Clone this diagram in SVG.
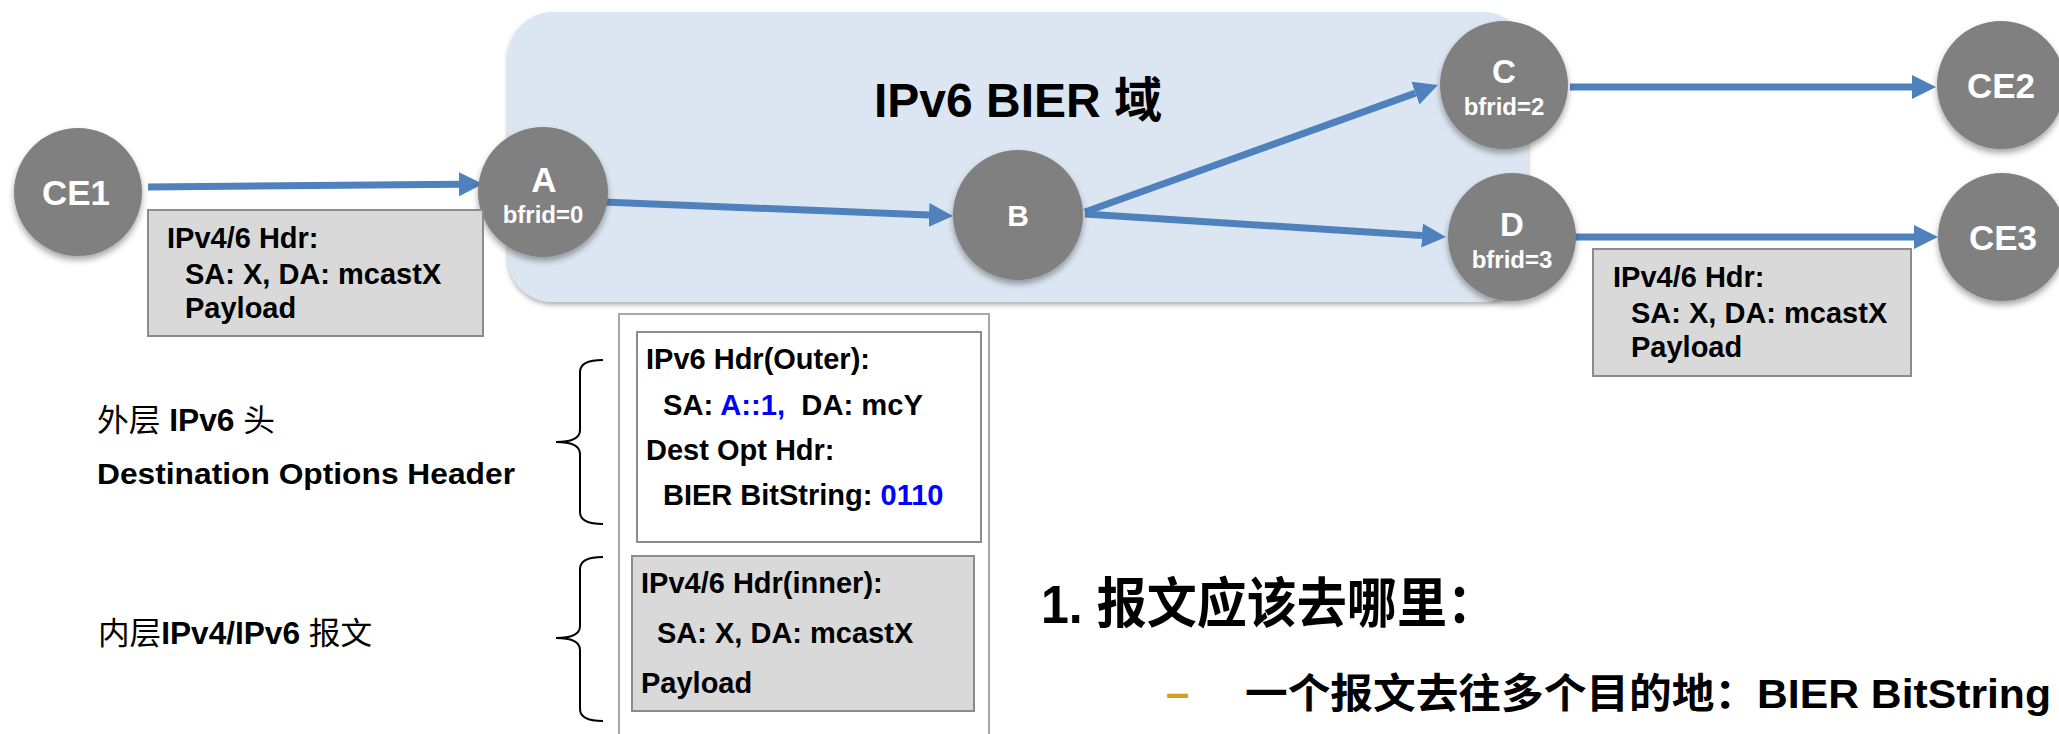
<svg xmlns="http://www.w3.org/2000/svg" width="2059" height="734" viewBox="0 0 2059 734">
<style>
text{font-family:"Liberation Sans","Noto Sans CJK SC",sans-serif;font-weight:bold;white-space:pre}
.node{fill:#808080;filter:url(#sh)}
.nl{fill:#fff;text-anchor:middle}
.big{font-size:35px}
.bf{font-size:24px}
.box{fill:#d9d9d9;stroke:#8c8c8c;stroke-width:2}
.bt{font-size:29px;fill:#000}
.conn{stroke:#4f81bd;stroke-width:7;fill:none;marker-end:url(#ah)}
.brace{fill:none;stroke:#000;stroke-width:2}
.blue{fill:#0000ff}
.reg{font-weight:normal}
</style>
<defs>
<filter id="sh" x="-20%" y="-20%" width="140%" height="150%">
<feDropShadow dx="0" dy="4" stdDeviation="3" flood-color="#000" flood-opacity="0.35"/>
</filter>
<filter id="sh2" x="-5%" y="-5%" width="110%" height="115%">
<feDropShadow dx="0" dy="3" stdDeviation="2.5" flood-color="#000" flood-opacity="0.3"/>
</filter>
<marker id="ah" markerUnits="userSpaceOnUse" markerWidth="26" markerHeight="26" viewBox="0 -13 26 26" refX="0" refY="0" orient="auto">
<path d="M0,-12 L24,0 L0,12 z" fill="#4f81bd"/>
</marker>
</defs>

<g id="domain">
<rect x="508" y="12" width="1020" height="290" rx="45" ry="45" fill="#dce6f2" filter="url(#sh2)"/>
<text x="1018" y="117" font-size="48" text-anchor="middle" fill="#000">IPv6 BIER 域</text>
</g>

<g id="connectors">
<path class="conn" d="M148,187 L459,184.2"/>
<path class="conn" d="M603,202 L929,215"/>
<path class="conn" d="M1085,212 L1415.4,93.1"/>
<path class="conn" d="M1085,214 L1422,235.5"/>
<path class="conn" d="M1570,87 L1912,87"/>
<path class="conn" d="M1570,237 L1914,237"/>
</g>

<g id="CE1">
<circle class="node" cx="78" cy="192" r="64"/>
<text class="nl big" x="76" y="205">CE1</text>
</g>
<g id="A">
<circle class="node" cx="543" cy="192" r="65"/>
<text class="nl" x="544" y="192" font-size="35">A</text>
<text class="nl bf" x="543" y="223">bfrid=0</text>
</g>
<g id="B">
<circle class="node" cx="1018" cy="215" r="65"/>
<text class="nl" x="1018" y="226" font-size="30">B</text>
</g>
<g id="C">
<circle class="node" cx="1504" cy="85" r="64"/>
<text class="nl" x="1504" y="83" font-size="33">C</text>
<text class="nl bf" x="1504" y="115">bfrid=2</text>
</g>
<g id="D">
<circle class="node" cx="1512" cy="237" r="64"/>
<text class="nl" x="1512" y="236" font-size="33">D</text>
<text class="nl bf" x="1512" y="268">bfrid=3</text>
</g>
<g id="CE2">
<circle class="node" cx="2001" cy="85" r="64"/>
<text class="nl big" x="2001" y="98">CE2</text>
</g>
<g id="CE3">
<circle class="node" cx="2002" cy="237" r="64"/>
<text class="nl big" x="2003" y="250">CE3</text>
</g>

<g id="pkt-in">
<rect class="box" x="148" y="210" width="335" height="126"/>
<text class="bt" x="167" y="248">IPv4/6 Hdr:</text>
<text class="bt" x="185" y="284">SA: X, DA: mcastX</text>
<text class="bt" x="185" y="318">Payload</text>
</g>

<g id="pkt-out">
<rect class="box" x="1593" y="249" width="318" height="127"/>
<text class="bt" x="1613" y="287">IPv4/6 Hdr:</text>
<text class="bt" x="1631" y="323">SA: X, DA: mcastX</text>
<text class="bt" x="1631" y="357">Payload</text>
</g>

<g id="pkt-bier">
<rect x="619" y="314" width="370" height="440" fill="#fff" stroke="#a6a6a6" stroke-width="2"/>
<rect x="637" y="332" width="344" height="210" fill="#fff" stroke="#8c8c8c" stroke-width="2"/>
<text class="bt" x="646" y="369">IPv6 Hdr(Outer):</text>
<text class="bt" x="663" y="415" textLength="260" lengthAdjust="spacingAndGlyphs">SA: <tspan class="blue">A::1,</tspan>  DA: mcY</text>
<text class="bt" x="646" y="460">Dest Opt Hdr:</text>
<text class="bt" x="663" y="505">BIER BitString: <tspan class="blue">0110</tspan></text>
<rect class="box" x="632" y="556" width="342" height="155"/>
<text class="bt" x="641" y="593">IPv4/6 Hdr(inner):</text>
<text class="bt" x="657" y="643">SA: X, DA: mcastX</text>
<text class="bt" x="641" y="693">Payload</text>
</g>

<g id="labels">
<path class="brace" d="M603,360 Q580,360 580,372 L580,430 Q580,442 556,442 Q580,442 580,454 L580,512 Q580,524 603,524"/>
<path class="brace" d="M603,557 Q580,557 580,569 L580,626 Q580,638 556,638 Q580,638 580,650 L580,709 Q580,721 603,721"/>
<text x="97" y="431" font-size="31" fill="#000" textLength="178" lengthAdjust="spacingAndGlyphs"><tspan class="reg">外层</tspan> IPv6 <tspan class="reg">头</tspan></text>
<text x="97" y="484" font-size="30" fill="#000" textLength="418" lengthAdjust="spacingAndGlyphs">Destination Options Header</text>
<text x="98" y="644" font-size="31" fill="#000" textLength="274" lengthAdjust="spacingAndGlyphs"><tspan class="reg">内层</tspan>IPv4/IPv6 <tspan class="reg">报文</tspan></text>
</g>

<g id="notes">
<text x="1041" y="623" font-size="54" fill="#000" textLength="456" lengthAdjust="spacingAndGlyphs">1. 报文应该去哪里：</text>
<text x="1166" y="707" font-size="42" fill="#d4a020">–</text>
<text x="1245" y="708" font-size="41" fill="#000" textLength="806" lengthAdjust="spacingAndGlyphs">一个报文去往多个目的地：BIER BitString</text>
</g>
</svg>
